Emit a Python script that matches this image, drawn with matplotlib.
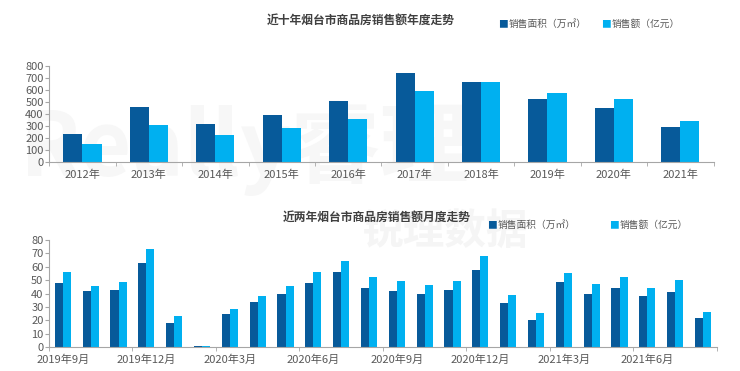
import matplotlib
matplotlib.use('Agg')
import matplotlib.pyplot as plt
import numpy as np

plt.rcParams['font.family'] = ['Noto Sans CJK SC', 'DejaVu Sans']
plt.rcParams['axes.unicode_minus'] = False

# 年度数据
years = ['2012年', '2013年', '2014年', '2015年', '2016年',
         '2017年', '2018年', '2019年', '2020年', '2021年']
year_area = [235, 456, 316, 393, 510, 738, 670, 524, 450, 292]
year_amount = [150, 310, 230, 284, 359, 590, 665, 579, 524, 341]

# 月度数据 2019年9月 - 2021年8月
months = ['2019年9月', '', '', '2019年12月', '', '', '2020年3月', '', '',
          '2020年6月', '', '', '2020年9月', '', '', '2020年12月', '', '',
          '2021年3月', '', '', '2021年6月', '', '']
month_area = [48.1, 42.2, 43.0, 63.0, 18.3, 1.2, 24.7, 34.0, 39.5, 47.7,
              55.8, 44.4, 41.7, 39.5, 42.7, 57.5, 32.8, 20.2, 48.6, 40.0,
              44.4, 38.3, 41.0, 22.0]
month_amount = [56.5, 45.4, 48.6, 73.3, 23.2, 1.2, 28.6, 38.3, 45.9, 55.8,
                64.4, 52.3, 49.4, 46.4, 49.4, 67.9, 38.8, 25.7, 55.6, 47.2,
                52.6, 44.4, 50.1, 26.4]

dark = '#075A9A'
light = '#00B0F0'
grey_txt = '#595959'
axis_col = '#A6A6A6'

fig = plt.figure(figsize=(7.4, 3.71), dpi=100)

# 水印（放在最底层，颜色很浅）
fig.text(0.33, 0.60, 'Really睿理', fontsize=64, color='#F7F7F7',
         fontweight='bold', ha='center', va='center', zorder=-5)
fig.text(0.60, 0.375, '锐理数据', fontsize=30, color='#F5F5F5',
         fontweight='bold', ha='center', va='center', zorder=-5)


def style_axes(ax):
    ax.set_facecolor('none')
    for s in ['top', 'right']:
        ax.spines[s].set_visible(False)
    ax.spines['left'].set_color(axis_col)
    ax.spines['bottom'].set_color(axis_col)
    ax.tick_params(axis='y', colors=axis_col, labelcolor=grey_txt,
                   labelsize=8, length=3, pad=1)
    ax.tick_params(axis='x', which='major', length=0, labelcolor=grey_txt,
                   labelsize=8, pad=5)
    ax.tick_params(axis='x', which='minor', length=3, color=axis_col)


# 上图：年度
ax1 = fig.add_axes([0.0666, 0.5625, 0.8976, 0.2596])
ax1.set_zorder(1)
x1 = np.arange(len(years))
w1 = 0.287
ax1.bar(x1 - w1 / 2, year_area, w1, color=dark, zorder=2)
ax1.bar(x1 + w1 / 2, year_amount, w1, color=light, zorder=2)
ax1.set_xlim(-0.5, len(years) - 0.5)
ax1.set_ylim(0, 800)
ax1.set_yticks(range(0, 801, 100))
ax1.set_xticks(x1)
ax1.set_xticklabels(years)
ax1.set_xticks(np.arange(-0.5, len(years), 1), minor=True)
style_axes(ax1)

fig.text(0.487, 0.945, '近十年烟台市商品房销售额年度走势', fontsize=8.5,
         fontweight='bold', color='#404040', ha='center', va='center')
fig.text(0.679, 0.935, '■', fontsize=7, color=dark, ha='center', va='center')
fig.text(0.687, 0.935, '销售面积（万㎡）', fontsize=7, color=grey_txt,
         ha='left', va='center')
fig.text(0.819, 0.935, '■', fontsize=7, color=light, ha='center', va='center')
fig.text(0.827, 0.935, '销售额（亿元）', fontsize=7, color=grey_txt,
         ha='left', va='center')

# 下图：月度
ax2 = fig.add_axes([0.0662, 0.0639, 0.9027, 0.2892])
ax2.set_zorder(1)
x2 = np.arange(len(months))
w2 = 0.29
ax2.bar(x2 - w2 / 2, month_area, w2, color=dark, zorder=2)
ax2.bar(x2 + w2 / 2, month_amount, w2, color=light, zorder=2)
ax2.set_xlim(-0.5, len(months) - 0.5)
ax2.set_ylim(0, 80)
ax2.set_yticks(range(0, 81, 10))
ax2.set_xticks(x2[::3])
ax2.set_xticklabels(months[::3])
ax2.set_xticks(np.arange(-0.5, len(months), 3), minor=True)
style_axes(ax2)

fig.text(0.509, 0.415, '近两年烟台市商品房销售额月度走势', fontsize=8.5,
         fontweight='bold', color='#404040', ha='center', va='center')
fig.text(0.665, 0.393, '■', fontsize=7, color=dark, ha='center', va='center')
fig.text(0.673, 0.393, '销售面积（万㎡）', fontsize=7, color=grey_txt,
         ha='left', va='center')
fig.text(0.830, 0.393, '■', fontsize=7, color=light, ha='center', va='center')
fig.text(0.838, 0.393, '销售额（亿元）', fontsize=7, color=grey_txt,
         ha='left', va='center')

fig.savefig('out.png', dpi=100)
